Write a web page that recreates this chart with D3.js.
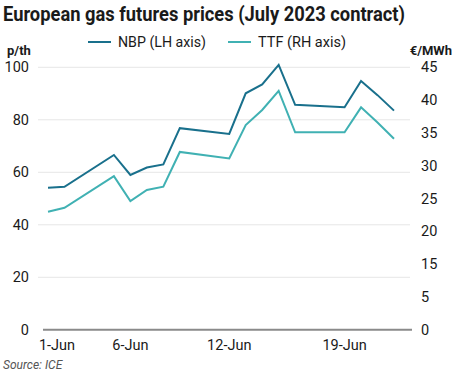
<!DOCTYPE html>
<html>
<head>
<meta charset="utf-8">
<script src="https://cdn.jsdelivr.net/npm/d3@7"></script>
<style>
  body { margin: 0; background: #fff; }
  text { font-family: Roboto, "Noto Sans", sans-serif; fill: #1a1a1a; }
</style>
</head>
<body>
<div id="chart"></div>
<script>
// data
const dates = ["2023-06-01","2023-06-02","2023-06-05","2023-06-06","2023-06-07","2023-06-08","2023-06-09",
  "2023-06-12","2023-06-13","2023-06-14","2023-06-15","2023-06-16",
  "2023-06-19","2023-06-20","2023-06-21","2023-06-22"];
const nbp = [54.1, 54.5, 66.6, 59.0, 61.8, 63.0, 76.8, 74.6, 90.1, 93.5, 100.9, 85.7, 84.8, 94.8, 89.4, 83.5];
const ttf = [23.0, 23.6, 28.4, 24.6, 26.3, 26.8, 32.1, 31.1, 36.2, 38.5, 41.4, 35.1, 35.1, 38.9, 36.6, 34.1];
const leftTicks = [0, 20, 40, 60, 80, 100];
// the original right axis skips "10"
const rightTicks = [0, 5, 15, 20, 25, 30, 35, 40, 45];
const xTicks = ["2023-06-01","2023-06-06","2023-06-12","2023-06-19"];

const W = 454, H = 375;
const parse = d3.timeParse("%Y-%m-%d");
const fmt = d3.timeFormat("%-d-%b");

const svg = d3.select("#chart").append("svg")
  .attr("width", W).attr("height", H);

const x = d3.scaleTime()
  .domain([parse(dates[0]), parse(dates[dates.length - 1])])
  .range([48, 394]);

const yBottom = 329.8, yTop = 67.3;
const yL = d3.scaleLinear().domain([0, 100]).range([yBottom, yTop]);
// right ticks are evenly spaced even though 10 is missing, so piecewise scale
const step = (yBottom - yTop) / 8;
const yR = d3.scaleLinear().domain([0, 5, 15, 45]).range([yBottom, yBottom - step, yBottom - 2 * step, yTop]);

// title
svg.append("text")
  .attr("x", 3).attr("y", 21)
  .attr("font-size", 20).attr("font-weight", 700)
  .attr("textLength", 402).attr("lengthAdjust", "spacingAndGlyphs")
  .text("European gas futures prices (July 2023 contract)");

// axis unit labels
svg.append("text").attr("x", 7).attr("y", 55).attr("font-size", 13).attr("font-weight", 700).text("p/th");
svg.append("text").attr("x", 452).attr("y", 55).attr("text-anchor", "end")
  .attr("font-size", 13).attr("font-weight", 700).text("€/MWh");

// legend
const colNBP = "#19708c", colTTF = "#40b1b3";
const legend = [
  {label: "NBP (LH axis)", color: colNBP, x: 88},
  {label: "TTF (RH axis)", color: colTTF, x: 228}
];
const lg = svg.append("g").selectAll("g").data(legend).join("g")
  .attr("transform", d => `translate(${d.x},42)`);
lg.append("line").attr("x1", 0).attr("x2", 23).attr("stroke", d => d.color).attr("stroke-width", 2);
lg.append("text").attr("x", 30).attr("y", 5).attr("font-size", 14.5)
  .attr("textLength", 88).attr("lengthAdjust", "spacingAndGlyphs")
  .text(d => d.label);

// gridlines
svg.append("g").selectAll("line").data(leftTicks.slice(1)).join("line")
  .attr("x1", 38).attr("x2", 410)
  .attr("y1", d => yL(d)).attr("y2", d => yL(d))
  .attr("stroke", "#e6e6e6").attr("stroke-width", 1);

// left axis labels
svg.append("g").selectAll("text").data(leftTicks).join("text")
  .attr("x", 29).attr("y", d => yL(d) + 5)
  .attr("text-anchor", "end").attr("font-size", 14.5)
  .text(d => d);

// right axis labels
svg.append("g").selectAll("text").data(rightTicks).join("text")
  .attr("x", 421).attr("y", d => yR(d) + 5)
  .attr("font-size", 14.5)
  .text(d => d);

// baseline
svg.append("line").attr("x1", 43).attr("x2", 412)
  .attr("y1", yBottom).attr("y2", yBottom)
  .attr("stroke", "#8a8a8a").attr("stroke-width", 2);

// x labels
svg.append("g").selectAll("text").data(xTicks).join("text")
  .attr("x", (d, i) => x(parse(d)) + (i === 0 ? 9 : 0))
  .attr("y", 350)
  .attr("text-anchor", "middle").attr("font-size", 14.5)
  .text(d => fmt(parse(d)));

// lines
const lineL = d3.line().x((d, i) => x(parse(dates[i]))).y(d => yL(d));
const lineR = d3.line().x((d, i) => x(parse(dates[i]))).y(d => yR(d));

svg.append("path").datum(ttf).attr("d", lineR)
  .attr("fill", "none").attr("stroke", colTTF).attr("stroke-width", 2);
svg.append("path").datum(nbp).attr("d", lineL)
  .attr("fill", "none").attr("stroke", colNBP).attr("stroke-width", 2);

// source
svg.append("text").attr("x", 3).attr("y", 369)
  .attr("font-size", 12).attr("font-style", "italic").style("fill", "#555")
  .text("Source: ICE");
</script>
</body>
</html>
